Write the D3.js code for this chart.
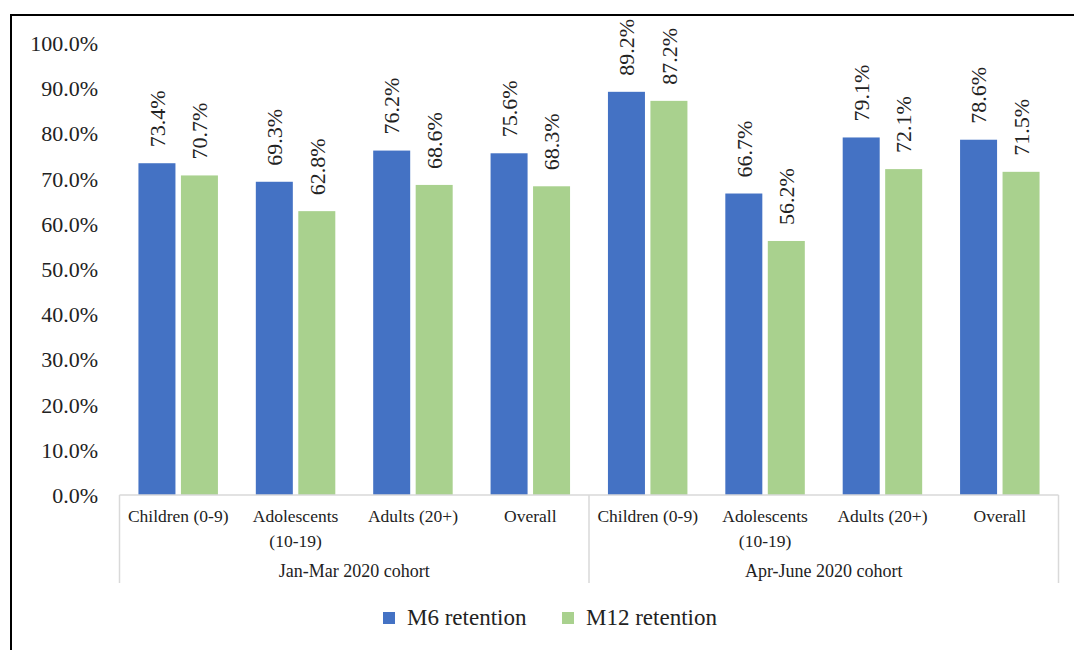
<!DOCTYPE html>
<html>
<head>
<meta charset="utf-8">
<script src="https://cdn.jsdelivr.net/npm/d3@7"></script>
<style>
  html, body { margin: 0; padding: 0; background: #fff; }
  svg { display: block; }
  text { font-family: "Liberation Serif", "Times New Roman", serif; fill: #222; }
</style>
</head>
<body>
<svg id="chart" width="1074" height="650"></svg>
<script>
// ---- Data ----
const groups = ["Jan-Mar 2020 cohort", "Apr-June 2020 cohort"];
const categories = ["Children (0-9)", "Adolescents (10-19)", "Adults (20+)", "Overall"];
const categoryLines = [["Children (0-9)"], ["Adolescents", "(10-19)"], ["Adults (20+)"], ["Overall"]];
const seriesNames = ["M6 retention", "M12 retention"];
const m6Values  = [0.734, 0.693, 0.762, 0.756, 0.892, 0.667, 0.791, 0.786];
const m12Values = [0.707, 0.628, 0.686, 0.683, 0.872, 0.562, 0.721, 0.715];
const yTicks = [0, 0.1, 0.2, 0.3, 0.4, 0.5, 0.6, 0.7, 0.8, 0.9, 1.0];
const colors = ["#4472C4", "#A9D18E"];

// ---- Layout ----
const svg = d3.select("#chart");
const x0 = 119.5, x1 = 1058.5, yBase = 495, yTop = 43, axisBottom = 583;

const keys = [];
groups.forEach((g, gi) => categories.forEach((c, ci) => keys.push(gi + "|" + ci)));
const rows = keys.map((k, i) => ({ key: k, gi: +k.split("|")[0], ci: +k.split("|")[1], values: [m6Values[i], m12Values[i]] }));

const x = d3.scaleBand().domain(keys).range([x0, x1]).padding(0);
const xs = d3.scaleBand().domain(seriesNames).range([0, x.bandwidth()]).paddingInner(0.129).paddingOuter(0.446);
const y = d3.scaleLinear().domain([0, 1]).range([yBase, yTop]);

// outer frame
svg.append("rect").attr("x", 11).attr("y", 15).attr("width", 1200).attr("height", 800)
  .attr("fill", "none").attr("stroke", "#000").attr("stroke-width", 2);

// y axis (labels only)
const yAxis = d3.axisLeft(y).tickValues(yTicks).tickFormat(d3.format(".1%")).tickSize(0).tickPadding(0);
const yg = svg.append("g").attr("transform", "translate(98,0)").call(yAxis);
yg.select(".domain").remove();
yg.selectAll("text").style("font-size", "22px").style("font-family", "'Liberation Serif', serif").attr("fill", "#222").attr("dy", "0.34em");

// bars
const cat = svg.append("g").selectAll("g").data(rows).join("g")
  .attr("transform", d => `translate(${x(d.key)},0)`);
cat.selectAll("rect").data(d => d.values.map((v, i) => ({ v, s: seriesNames[i], i }))).join("rect")
  .attr("x", d => xs(d.s)).attr("width", xs.bandwidth())
  .attr("y", d => y(d.v)).attr("height", d => yBase - y(d.v))
  .attr("fill", d => colors[d.i]);

// data labels
cat.selectAll("text.lbl").data(d => d.values.map((v, i) => ({ v, s: seriesNames[i], i }))).join("text")
  .attr("class", "lbl")
  .attr("transform", d => `translate(${xs(d.s) + xs.bandwidth() / 2},${y(d.v) - 16}) rotate(-90)`)
  .attr("dy", "0.35em")
  .attr("text-anchor", "start")
  .style("font-size", "22px")
  .text(d => d3.format(".1%")(d.v));

// x axis lines
const axisColor = "#d9d9d9";
svg.append("line").attr("x1", x0).attr("x2", x1).attr("y1", yBase).attr("y2", yBase)
  .attr("stroke", axisColor).attr("stroke-width", 1.5);
const groupEdges = [x0, x(keys[4]), x1];
svg.selectAll("line.gedge").data(groupEdges).join("line").attr("class", "gedge")
  .attr("x1", d => d).attr("x2", d => d).attr("y1", yBase).attr("y2", axisBottom)
  .attr("stroke", axisColor).attr("stroke-width", 1.5);

// category labels
const catLbl = svg.append("g").selectAll("text").data(rows).join("text")
  .attr("x", d => x(d.key) + x.bandwidth() / 2)
  .attr("y", 522)
  .attr("text-anchor", "middle")
  .style("font-size", "17.5px");
catLbl.selectAll("tspan").data(d => categoryLines[d.ci].map(t => ({ t, cx: x(d.key) + x.bandwidth() / 2 }))).join("tspan")
  .attr("x", d => d.cx).attr("dy", (d, i) => i === 0 ? 0 : 25).text(d => d.t);

// group labels
svg.append("g").selectAll("text").data(groups).join("text")
  .attr("x", (d, i) => (groupEdges[i] + groupEdges[i + 1]) / 2)
  .attr("y", 577)
  .attr("text-anchor", "middle")
  .style("font-size", "18px")
  .text(d => d);

// legend
const legendX = [383, 562];
const lg = svg.append("g").selectAll("g").data(seriesNames).join("g")
  .attr("transform", (d, i) => `translate(${legendX[i]},612)`);
lg.append("rect").attr("width", 12).attr("height", 12).attr("fill", (d, i) => colors[i]);
lg.append("text").attr("x", 24).attr("y", 13).style("font-size", "23px").text(d => d);
</script>
</body>
</html>
